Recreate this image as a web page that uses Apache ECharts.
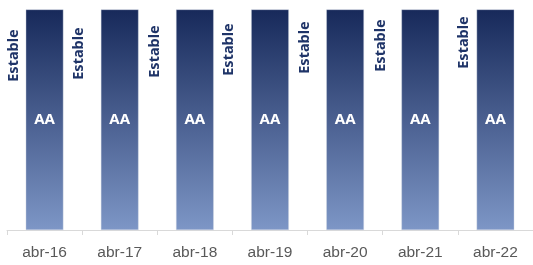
<!DOCTYPE html>
<html>
<head>
<meta charset="utf-8">
<script src="https://cdn.jsdelivr.net/npm/echarts@6/dist/echarts.min.js"></script>
<style>
html,body{margin:0;padding:0;background:#fff;}
#c{width:533px;height:265px;}
</style>
</head>
<body>
<div id="c"></div>
<script>
const categories = ['abr-16','abr-17','abr-18','abr-19','abr-20','abr-21','abr-22'];
const ratingValues = [1, 1, 1, 1, 1, 1, 1];
const ratingLabels = ['AA','AA','AA','AA','AA','AA','AA'];
const outlookLabels = ['Estable','Estable','Estable','Estable','Estable','Estable','Estable'];

const chart = echarts.init(document.getElementById('c'), null, {renderer:'canvas'});

const dxs = [-12, -22, -21, -22, -21, -21, -13];
const dys = [46, 44, 42, 40, 38, 36, 33];

const option = {
  animation: false,
  grid: {left: 7, right: -4.6, top: 9.5, bottom: 35},
  xAxis: {
    type: 'category',
    data: categories,
    axisLine: {lineStyle: {color: '#d9d9d9', width: 1}},
    axisTick: {show: true, length: 5, lineStyle: {color: '#d9d9d9'}},
    axisLabel: {color: '#595959', fontFamily: 'Liberation Sans', fontSize: 15.5, margin: 15}
  },
  yAxis: {type: 'value', min: 0, max: 1, show: false, splitLine: {show: false}},
  series: [
    {
      type: 'bar',
      barWidth: '50%',
      data: ratingValues,
      itemStyle: {
        color: new echarts.graphic.LinearGradient(0, 0, 0, 1, [
          {offset: 0, color: '#17295a'},
          {offset: 1, color: '#7d96c6'}
        ]),
        borderColor: '#cfd6e4',
        borderWidth: 0.4
      },
      label: {
        show: true,
        position: 'inside',
        formatter: p => ratingLabels[p.dataIndex],
        color: '#ffffff',
        fontFamily: 'Noto Sans',
        fontWeight: 'bold',
        fontSize: 15
      }
    },
    {
      type: 'bar',
      barWidth: '50%',
      barGap: '-100%',
      z: 5,
      data: ratingValues.map((v, i) => ({
        value: v,
        label: {position: [dxs[i], dys[i]]}
      })),
      itemStyle: {color: 'rgba(0,0,0,0)'},
      label: {
        show: true,
        rotate: 90,
        align: 'center',
        verticalAlign: 'middle',
        formatter: p => outlookLabels[p.dataIndex],
        color: '#1f3468',
        fontFamily: 'Noto Sans',
        fontWeight: 'bold',
        fontSize: 14.5
      }
    }
  ]
};
chart.setOption(option);
</script>
</body>
</html>
